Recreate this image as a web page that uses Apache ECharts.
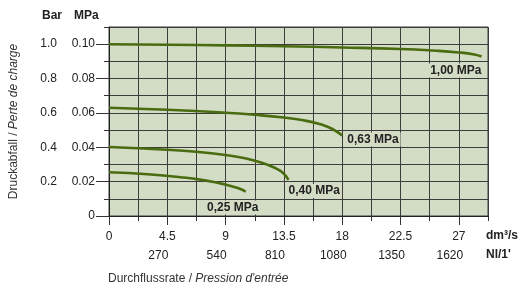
<!DOCTYPE html>
<html>
<head>
<meta charset="utf-8">
<script src="https://cdn.jsdelivr.net/npm/echarts@6/dist/echarts.min.js"></script>
<style>
  html, body { margin: 0; padding: 0; background: #fff; }
  #chart { width: 526px; height: 288px; }
</style>
</head>
<body>
<div id="chart"></div>
<script>
// Druckabfall-Kurven, x in dm3/s, y in MPa
const curve100 = [[0, 0.1], [4.5, 0.0997], [9, 0.0993], [13.5, 0.0988], [18, 0.0981], [22.5, 0.0972], [25, 0.0963], [27, 0.0952], [28.2, 0.094], [28.75, 0.0928]];
const curve063 = [[0, 0.063], [4.5, 0.0618], [9, 0.0601], [11.25, 0.0589], [13.5, 0.0573], [15, 0.0557], [16.25, 0.0535], [17.2, 0.0508], [18, 0.0468]];
const curve040 = [[0, 0.0402], [4.5, 0.0386], [7, 0.0372], [9, 0.0355], [10.5, 0.0336], [11.75, 0.0311], [12.75, 0.0282], [13.4, 0.0253], [13.85, 0.021]];
const curve025 = [[0, 0.0255], [3, 0.0243], [5.5, 0.0226], [7.5, 0.0206], [9, 0.0183], [10, 0.0161], [10.55, 0.0142]];
const curveNames = ['1,00 MPa', '0,63 MPa', '0,40 MPa', '0,25 MPa'];

// Achsen
const xTicks = [0, 4.5, 9, 13.5, 18, 22.5, 27];
const xTicksNl = [4.5, 9, 13.5, 18, 22.5, 27];
const yTicks = [0, 0.02, 0.04, 0.06, 0.08, 0.1];

(function () {
  const myChart = echarts.init(document.getElementById('chart'));
  const font = 'Liberation Sans, Arial, sans-serif';
  const fill = '#d3dcc5';
  const green = '#4a6c10';
  const grid = '#3c3c3c';

  // Beschriftung am Kurvenende
  const endLabels = [
    { align: 'right', offset: [2, 14] },
    { align: 'left', offset: [3, 4] },
    { align: 'left', offset: [-2, 11] },
    { align: 'center', offset: [-13, 16] }
  ];
  const curves = [curve100, curve063, curve040, curve025];

  let option = {
    animation: false,
    textStyle: { fontFamily: font },
    grid: {
      left: 109,
      right: 38,
      top: 27,
      bottom: 72,
      show: true,
      backgroundColor: fill,
      borderColor: grid,
      borderWidth: 1
    },
    xAxis: [{
      type: 'value',
      min: 0,
      max: 29.25,
      interval: 2.25,
      axisLine: { show: true, onZero: false, lineStyle: { color: '#222', width: 1 } },
      axisTick: { show: true, length: 5, lineStyle: { color: '#333' } },
      axisLabel: { show: false },
      splitLine: { show: true, lineStyle: { color: grid, width: 1 } }
    }, {
      type: 'value',
      position: 'bottom',
      min: 0,
      max: 29.25,
      axisLine: { show: false },
      axisTick: { show: true, length: 9, customValues: xTicks, lineStyle: { color: '#333' } },
      axisLabel: {
        customValues: xTicks,
        color: '#222',
        fontSize: 12,
        margin: 15,
        formatter: function (v) { return String(v); }
      },
      splitLine: { show: false }
    }, {
      type: 'value',
      position: 'bottom',
      offset: 19,
      min: 0,
      max: 29.25,
      axisLine: { show: false },
      axisTick: { show: false },
      axisLabel: {
        customValues: xTicksNl,
        color: '#222',
        fontSize: 12,
        margin: 15,
        padding: [0, 18, 0, 0],
        formatter: function (v) { return String(Math.round(v * 60)); }
      },
      splitLine: { show: false }
    }],
    yAxis: [{
      type: 'value',
      position: 'left',
      min: 0,
      max: 0.11,
      interval: 0.01,
      axisLine: { show: true, lineStyle: { color: '#222' } },
      axisTick: { show: true, length: 5, lineStyle: { color: '#333' } },
      axisLabel: { show: false },
      splitLine: { show: true, lineStyle: { color: grid, width: 1 } }
    }, {
      type: 'value',
      position: 'left',
      min: 0,
      max: 0.11,
      axisLine: { show: false },
      axisTick: { show: true, length: 13, customValues: yTicks, lineStyle: { color: '#333' } },
      axisLabel: {
        customValues: yTicks,
        color: '#222',
        fontSize: 12,
        margin: 14,
        formatter: function (v) { return v === 0 ? '0' : v.toFixed(2); }
      },
      splitLine: { show: false }
    }, {
      type: 'value',
      position: 'left',
      offset: 38,
      min: 0,
      max: 0.11,
      name: '{n|Druckabfall / }{i|Perte de charge}',
      nameLocation: 'middle',
      nameRotate: 90,
      nameGap: 51,
      nameTextStyle: {
        rich: {
          n: { fontSize: 12, color: '#333', fontFamily: font },
          i: { fontSize: 12, color: '#333', fontStyle: 'italic', fontFamily: font }
        }
      },
      axisLine: { show: false },
      axisTick: { show: false },
      axisLabel: {
        customValues: yTicks.slice(1),
        color: '#222',
        fontSize: 12,
        margin: 14,
        formatter: function (v) { return (v * 10).toFixed(1); }
      },
      splitLine: { show: false }
    }],
    graphic: [{
      type: 'text', left: 42, top: 10,
      style: { text: 'Bar', font: 'bold 12px ' + font, fill: '#222' }
    }, {
      type: 'text', left: 74, top: 10,
      style: { text: 'MPa', font: 'bold 12px ' + font, fill: '#222' }
    }, {
      type: 'text', left: 486, top: 230,
      style: { text: 'dm³/s', font: 'bold 12px ' + font, fill: '#222' }
    }, {
      type: 'text', left: 486, top: 249,
      style: { text: "Nl/1'", font: 'bold 12px ' + font, fill: '#222' }
    }, {
      type: 'text', left: 108, top: 273,
      style: {
        text: '{n|Durchflussrate / }{i|Pression d\'entrée}',
        rich: {
          n: { font: '12px ' + font, fill: '#333' },
          i: { font: 'italic 12px ' + font, fill: '#333' }
        }
      }
    }],
    series: curves.map(function (d, i) {
      return {
        name: curveNames[i],
        type: 'line',
        data: d,
        smooth: 0.5,
        showSymbol: false,
        symbol: 'none',
        lineStyle: { color: green, width: 2.6 },
        endLabel: {
          show: true,
          distance: 0,
          formatter: curveNames[i],
          align: endLabels[i].align,
          verticalAlign: 'middle',
          offset: endLabels[i].offset,
          color: '#222',
          fontWeight: 'bold',
          fontSize: 12,
          backgroundColor: fill,
          padding: [1, 2]
        }
      };
    })
  };
  myChart.setOption(option);
  window.addEventListener('resize', function () {
    myChart.resize();
  });
})();
</script>
</body>
</html>
